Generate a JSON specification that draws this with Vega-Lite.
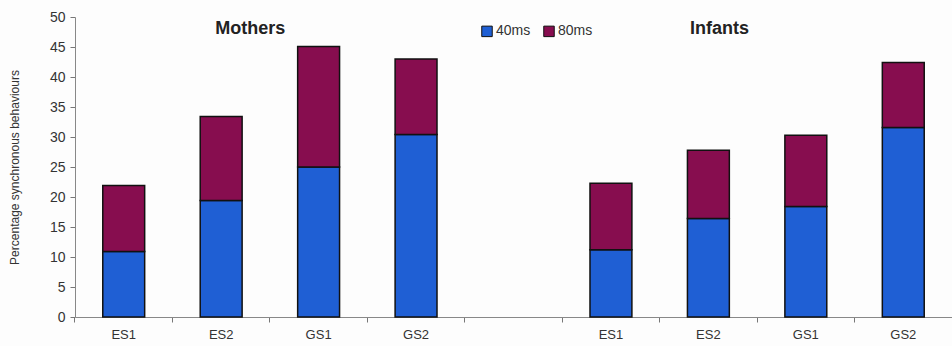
{
  "$schema": "https://vega.github.io/schema/vega-lite/v6.json",
  "autosize": {"type": "fit", "contains": "padding"},
  "width": 952,
  "height": 346,
  "padding": {"left": 8, "top": 10, "right": 0, "bottom": 5},
  "background": "#fdfdfd",
  "config": {
    "view": {"stroke": null},
    "font": "Liberation Sans",
    "axis": {"labelColor": "#333333", "titleColor": "#333333", "domainColor": "#888888", "tickColor": "#777777", "grid": false}
  },
  "datasets": {
    "bars": [
      {"key": "M-ES1", "ms": "40ms", "value": 10.9},
      {"key": "M-ES1", "ms": "80ms", "value": 11.0},
      {"key": "M-ES2", "ms": "40ms", "value": 19.4},
      {"key": "M-ES2", "ms": "80ms", "value": 14.0},
      {"key": "M-GS1", "ms": "40ms", "value": 25.0},
      {"key": "M-GS1", "ms": "80ms", "value": 20.1},
      {"key": "M-GS2", "ms": "40ms", "value": 30.4},
      {"key": "M-GS2", "ms": "80ms", "value": 12.6},
      {"key": "I-ES1", "ms": "40ms", "value": 11.2},
      {"key": "I-ES1", "ms": "80ms", "value": 11.1},
      {"key": "I-ES2", "ms": "40ms", "value": 16.4},
      {"key": "I-ES2", "ms": "80ms", "value": 11.4},
      {"key": "I-GS1", "ms": "40ms", "value": 18.4},
      {"key": "I-GS1", "ms": "80ms", "value": 11.9},
      {"key": "I-GS2", "ms": "40ms", "value": 31.6},
      {"key": "I-GS2", "ms": "80ms", "value": 10.8}
    ],
    "titles": [
      {"key": "M-ES2", "y": 48, "label": "Mothers"},
      {"key": "I-ES2", "y": 48, "label": "Infants"}
    ]
  },
  "layer": [
    {
      "data": {"name": "bars"},
      "mark": {"type": "bar", "stroke": "#111111", "strokeWidth": 1.5},
      "encoding": {
        "x": {
          "field": "key", "type": "nominal",
          "scale": {"domain": ["M-ES1", "M-ES2", "M-GS1", "M-GS2", "gap", "I-ES1", "I-ES2", "I-GS1", "I-GS2"], "paddingInner": 0.57, "paddingOuter": 0.285},
          "axis": {"title": null, "labelAngle": 0, "labelExpr": "datum.value == 'gap' ? '' : slice(datum.value, 2)", "bandPosition": -0.663, "ticks": true, "tickSize": 5, "tickWidth": 1, "labelFontSize": 13, "labelPadding": 6}
        },
        "y": {
          "field": "value", "type": "quantitative", "stack": "zero",
          "scale": {"domain": [0, 50], "nice": false},
          "axis": {"title": "Percentage synchronous behaviours", "titleFontSize": 12, "titleFontWeight": "normal", "titlePadding": 28, "tickCount": 10, "labelOverlap": false, "tickSize": 5, "labelFontSize": 14, "labelPadding": 5}
        },
        "order": {"field": "ms", "type": "nominal", "sort": "ascending"},
        "color": {
          "field": "ms", "type": "nominal",
          "scale": {"domain": ["40ms", "80ms"], "range": ["#1f5fd4", "#870d4f"]},
          "legend": {"title": null, "orient": "none", "direction": "horizontal", "legendX": 405, "legendY": 7, "symbolType": "square", "symbolSize": 110, "symbolStrokeColor": "#111111", "symbolStrokeWidth": 1, "labelFontSize": 14, "labelColor": "#333333", "columnPadding": 10, "labelOffset": 2}
        }
      }
    },
    {
      "data": {"name": "titles"},
      "transform": [{"filter": "datum.label == 'Mothers'"}],
      "mark": {"type": "text", "fontSize": 18, "fontWeight": "bold", "color": "#222222", "dx": 29, "align": "center"},
      "encoding": {
        "x": {"field": "key", "type": "nominal"},
        "y": {"field": "y", "type": "quantitative"},
        "text": {"field": "label"}
      }
    },
    {
      "data": {"name": "titles"},
      "transform": [{"filter": "datum.label == 'Infants'"}],
      "mark": {"type": "text", "fontSize": 18, "fontWeight": "bold", "color": "#222222", "dx": 11, "align": "center"},
      "encoding": {
        "x": {"field": "key", "type": "nominal"},
        "y": {"field": "y", "type": "quantitative"},
        "text": {"field": "label"}
      }
    }
  ]
}
